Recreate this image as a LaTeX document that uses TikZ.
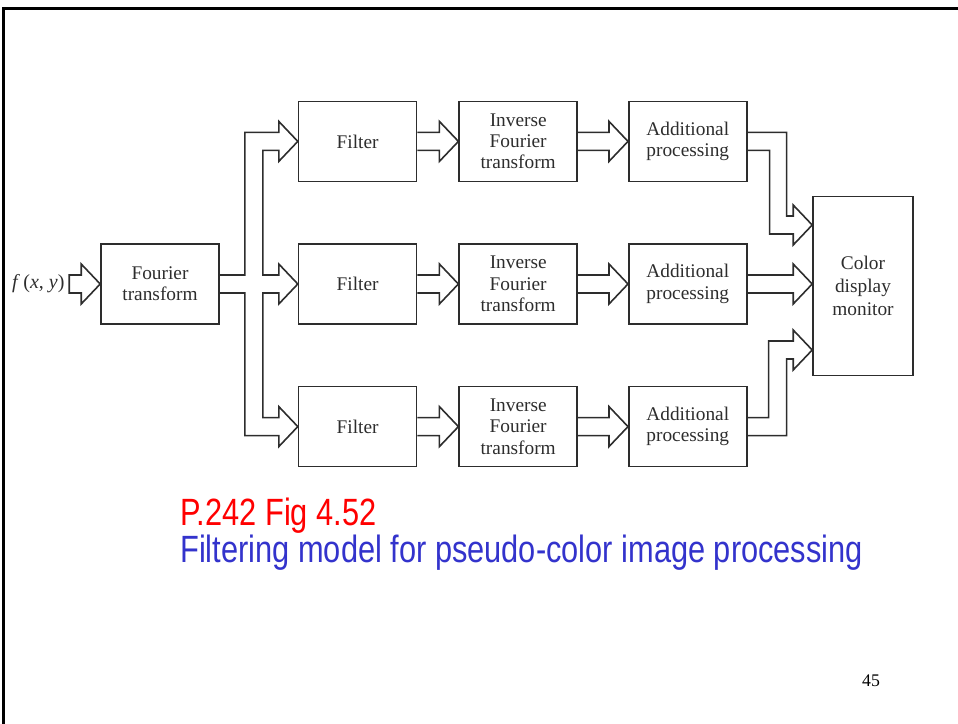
\documentclass[tikz,border=0pt]{standalone}
\usepackage{fontspec}
\setmainfont{Liberation Serif}
\newfontfamily\figcapfont[FakeStretch=0.81]{Liberation Sans}
\usetikzlibrary{positioning,calc}
\definecolor{linegray}{RGB}{45, 45, 45}
\definecolor{captionred}{RGB}{255, 0, 0}
\definecolor{captionblue}{RGB}{51, 51, 204}

\begin{document}
\begin{tikzpicture}[x=0.75pt, y=-0.75pt,
blocknode/.style={rectangle, draw=linegray, text=linegray, line width=1.2pt, minimum width=88.5pt, minimum height=60pt, align=center, font=\fontsize{14.5}{16}\selectfont},
monitornode/.style={blocknode, minimum width=75pt, minimum height=134.25pt},
hollowarrow/.style={draw=linegray, line width=1.2pt, line join=miter},
captiontext/.style={inner sep=0pt, anchor=base west, font=\figcapfont\fontsize{28.5}{30}\selectfont}
]
\useasboundingbox (0,0) rectangle (958,724);

%Frame
\draw[line width=2.25pt] (3.5,724) -- (3.5,8.5) -- (958,8.5);

%Nodes
%Nodes input and fourier
\node[blocknode] 											(fourier) at (160,284) {Fourier\\transform};
\node[text=linegray, font=\fontsize{15}{16}\selectfont, left=23.25pt of fourier] 	(input) {\textit{f}\,(\textit{x}, \textit{y})};

%Nodes filter
\node[blocknode] 											(filter_2) [right=58.5pt of fourier] {Filter};
\node[blocknode] 											(filter_1) [above=45.75pt of filter_2] {Filter};
\node[blocknode] 											(filter_3) [below=45.75pt of filter_2] {Filter};

%Nodes inverse
\node[blocknode] 											(inverse_1) [right=30.75pt of filter_1] {Inverse\\Fourier\\transform};
\node[blocknode] 											(inverse_2) [right=30.75pt of filter_2] {Inverse\\Fourier\\transform};
\node[blocknode] 											(inverse_3) [right=30.75pt of filter_3] {Inverse\\Fourier\\transform};

%Nodes additional
\node[blocknode] 											(additional_1) [right=37.5pt of inverse_1] {Additional\\processing};
\node[blocknode] 											(additional_2) [right=37.5pt of inverse_2] {Additional\\processing};
\node[blocknode] 											(additional_3) [right=37.5pt of inverse_3] {Additional\\processing};

%Nodes monitor
\node[monitornode, font=\fontsize{14.5}{17.25}\selectfont] 	(monitor) at (863,286) {Color\\display\\monitor};
\coordinate (monitor_in_2) at (monitor.west |- additional_2.east);

%Arrow
%Arrow from input to fourier
\draw [hollowarrow] ($(input.east)+(0,-9)$) -- ($(fourier.west)+(-19,-9)$) -- ++(0,-11) -- (fourier.west) -- ++(-19,20) -- ++(0,-11) -- ($(input.east)+(0,9)$) -- cycle;

%Arrow from fourier to filter
\draw [hollowarrow] ($(fourier.east)+(0,-9)$) -- ++(25,0) |- ($(filter_1.west)+(-19,-9)$) -- ++(0,-11) -- (filter_1.west) -- ++(-19,20) -- ++(0,-11)
	-| ($(fourier.east)+(43,-9)$) -- ($(filter_2.west)+(-19,-9)$) -- ++(0,-11) -- (filter_2.west) -- ++(-19,20) -- ++(0,-11)
	-- ($(fourier.east)+(43,9)$) |- ($(filter_3.west)+(-19,-9)$) -- ++(0,-11) -- (filter_3.west) -- ++(-19,20) -- ++(0,-11)
	-| ($(fourier.east)+(25,9)$) -- ($(fourier.east)+(0,9)$);

%Arrow from filter to inverse
\draw [hollowarrow] ($(filter_1.east)+(0,-9)$) -- ($(inverse_1.west)+(-19,-9)$) -- ++(0,-11) -- (inverse_1.west) -- ++(-19,20) -- ++(0,-11) -- ($(filter_1.east)+(0,9)$);
\draw [hollowarrow] ($(filter_2.east)+(0,-9)$) -- ($(inverse_2.west)+(-19,-9)$) -- ++(0,-11) -- (inverse_2.west) -- ++(-19,20) -- ++(0,-11) -- ($(filter_2.east)+(0,9)$);
\draw [hollowarrow] ($(filter_3.east)+(0,-9)$) -- ($(inverse_3.west)+(-19,-9)$) -- ++(0,-11) -- (inverse_3.west) -- ++(-19,20) -- ++(0,-11) -- ($(filter_3.east)+(0,9)$);

%Arrow from inverse to additional
\draw [hollowarrow] ($(inverse_1.east)+(0,-9)$) -- ($(additional_1.west)+(-19,-9)$) -- ++(0,-11) -- (additional_1.west) -- ++(-19,20) -- ++(0,-11) -- ($(inverse_1.east)+(0,9)$);
\draw [hollowarrow] ($(inverse_2.east)+(0,-9)$) -- ($(additional_2.west)+(-19,-9)$) -- ++(0,-11) -- (additional_2.west) -- ++(-19,20) -- ++(0,-11) -- ($(inverse_2.east)+(0,9)$);
\draw [hollowarrow] ($(inverse_3.east)+(0,-9)$) -- ($(additional_3.west)+(-19,-9)$) -- ++(0,-11) -- (additional_3.west) -- ++(-19,20) -- ++(0,-11) -- ($(inverse_3.east)+(0,9)$);

%Arrow from additional to monitor
\draw [hollowarrow] ($(additional_1.east)+(0,-9)$) -- ++(39,0) |- ($(monitor.west)+(-19,-70)$) -- ++(0,-11) -- ($(monitor.west)+(0,-61)$) -- ++(-19,20) -- ++(0,-11) -| ($(additional_1.east)+(22,9)$) -- ($(additional_1.east)+(0,9)$);
\draw [hollowarrow] ($(additional_2.east)+(0,-9)$) -- ($(monitor_in_2)+(-19,-9)$) -- ++(0,-11) -- (monitor_in_2) -- ++(-19,20) -- ++(0,-11) -- ($(additional_2.east)+(0,9)$);
\draw [hollowarrow] ($(additional_3.east)+(0,-9)$) -- ++(21,0) |- ($(monitor.west)+(-19,55)$) -- ++(0,-11) -- ($(monitor.west)+(0,64)$) -- ++(-19,20) -- ++(0,-11) -| ($(additional_3.east)+(39,9)$) -- ($(additional_3.east)+(0,9)$);

%Caption
\node[captiontext, text=captionred] 		(caption_ref) at (180,525) {P.242 Fig 4.52};
\node[captiontext, text=captionblue] 	(caption_title) at (180,562) {Filtering model for pseudo-color image processing};

%Page number
\node[font=\fontsize{13.3}{15}\selectfont] (page_number) at (871,681) {45};

\end{tikzpicture}
\end{document}
